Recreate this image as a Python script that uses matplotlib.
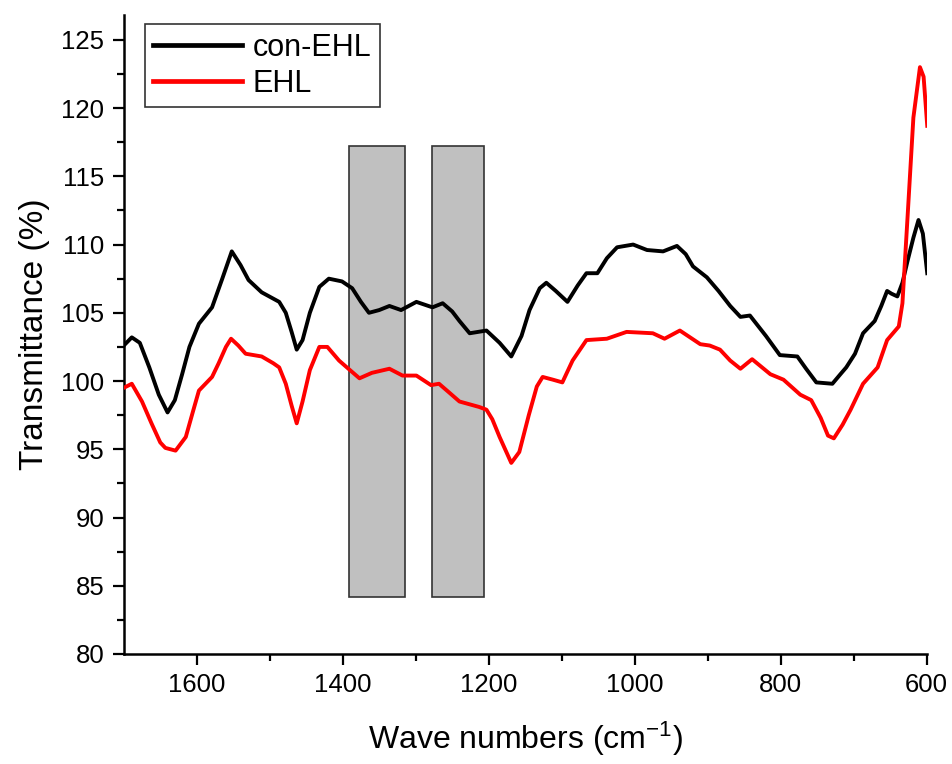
import matplotlib
matplotlib.use("Agg")
import matplotlib.pyplot as plt
from matplotlib.patches import Rectangle

# ---- data ----
con_ehl_x = [1700, 1689, 1678, 1665, 1652, 1640, 1630, 1620, 1610, 1597, 1579, 1565, 1552, 1540,
             1529, 1511, 1487, 1478, 1470, 1463, 1455, 1445, 1432, 1419, 1401, 1387, 1375, 1364,
             1350, 1336, 1320, 1299, 1277, 1263, 1250, 1240, 1226, 1203, 1185, 1169, 1155, 1144,
             1130, 1121, 1108, 1092, 1078, 1066, 1051, 1038, 1024, 1002, 983, 961, 942, 930, 920,
             901, 885, 869, 855, 842, 820, 801, 777, 765, 751, 729, 718, 710, 698, 687, 671, 662,
             654, 648, 640, 633, 626, 618, 611, 605, 599]
con_ehl_y = [102.6, 103.2, 102.8, 101.0, 99.0, 97.7, 98.6, 100.5, 102.5, 104.2, 105.4, 107.5, 109.5, 108.5,
             107.4, 106.5, 105.8, 105.0, 103.6, 102.3, 103.0, 105.0, 106.9, 107.5, 107.3, 106.8, 105.8, 105.0,
             105.2, 105.5, 105.2, 105.8, 105.4, 105.7, 105.1, 104.4, 103.5, 103.7, 102.8, 101.8, 103.3, 105.2,
             106.8, 107.2, 106.6, 105.8, 107.0, 107.9, 107.9, 109.0, 109.8, 110.0, 109.6, 109.5, 109.9, 109.3, 108.4,
             107.6, 106.6, 105.5, 104.7, 104.8, 103.3, 101.9, 101.8, 100.9, 99.9, 99.8, 100.5, 101.0, 102.0, 103.5, 104.4, 105.5,
             106.6, 106.4, 106.2, 107.2, 108.8, 110.5, 111.8, 110.8, 107.9]

ehl_x = [1700, 1689, 1675, 1662, 1650, 1643, 1629, 1615, 1605, 1597, 1579, 1570, 1560, 1553, 1543,
         1533, 1511, 1495, 1487, 1478, 1470, 1463, 1455, 1445, 1432, 1421, 1405, 1390, 1377, 1360,
         1336, 1318, 1299, 1279, 1268, 1255, 1240, 1213, 1203, 1195, 1185, 1169, 1158, 1145, 1134,
         1126, 1112, 1099, 1085, 1066, 1038, 1011, 975, 959, 938, 910, 897, 883, 869, 855, 839, 814,
         796, 773, 758, 745, 735, 727, 715, 704, 687, 667, 654, 638, 633, 626, 618, 609, 604, 599]
ehl_y = [99.5, 99.8, 98.5, 96.9, 95.5, 95.1, 94.9, 95.9, 97.8, 99.3, 100.3, 101.3, 102.5, 103.1, 102.6,
         102.0, 101.8, 101.3, 101.0, 99.8, 98.2, 96.9, 98.5, 100.8, 102.5, 102.5, 101.5, 100.8, 100.2, 100.6,
         100.9, 100.4, 100.4, 99.7, 99.8, 99.2, 98.5, 98.1, 97.9, 97.2, 95.9, 94.0, 94.8, 97.5, 99.6,
         100.3, 100.1, 99.9, 101.5, 103.0, 103.1, 103.6, 103.5, 103.1, 103.7, 102.7, 102.6, 102.3, 101.5, 100.9, 101.6, 100.5,
         100.1, 99.0, 98.6, 97.3, 96.0, 95.8, 96.8, 97.9, 99.8, 101.0, 103.0, 104.0, 105.7, 112.0, 119.3, 123.0, 122.3, 118.7]

series_labels = ["con-EHL", "EHL"]
series_colors = ["#000000", "#ff0000"]

# shaded bands (x start, x end) and their vertical extent
band_ranges = [(1391, 1314), (1277, 1207)]
band_y = (84.2, 117.2)

x_ticks = [1600, 1400, 1200, 1000, 800, 600]
y_ticks = [80, 85, 90, 95, 100, 105, 110, 115, 120, 125]

plt.rcParams['font.family'] = ['Liberation Sans', 'DejaVu Sans']
plt.rcParams['mathtext.fontset'] = 'custom'
plt.rcParams['mathtext.rm'] = 'Liberation Sans'
plt.rcParams['mathtext.default'] = 'regular'

fig = plt.figure(figsize=(9.52, 7.64), dpi=100)
ax = fig.add_axes([0.130, 0.144, 0.844, 0.836])

for x0, x1 in band_ranges:
    ax.add_patch(Rectangle((min(x0, x1), band_y[0]), abs(x0 - x1), band_y[1] - band_y[0],
                           facecolor="#c0c0c0", edgecolor="#333333", linewidth=1.2, zorder=1))

ax.plot(con_ehl_x, con_ehl_y, color=series_colors[0], lw=2.8, label=series_labels[0], zorder=3,
        solid_joinstyle="round")
ax.plot(ehl_x, ehl_y, color=series_colors[1], lw=2.8, label=series_labels[1], zorder=3,
        solid_joinstyle="round")

ax.set_xlim(1700, 599)
ax.set_ylim(80, 126.8)
ax.set_xticks(x_ticks)
ax.set_yticks(y_ticks)
ax.set_xticks([1500, 1300, 1100, 900, 700], minor=True)
ax.set_yticks([82.5 + 5 * i for i in range(9)], minor=True)

for s in ["top", "right"]:
    ax.spines[s].set_visible(False)
for s in ["left", "bottom"]:
    ax.spines[s].set_linewidth(1.8)

ax.tick_params(axis="both", which="major", direction="out", length=8, width=1.6, labelsize=18.5, pad=6)
ax.tick_params(axis="both", which="minor", direction="out", length=5, width=1.6)

ax.set_xlabel("Wave numbers (cm$^{-1}$)", fontsize=23, labelpad=16)
ax.set_ylabel("Transmittance (%)", fontsize=24, labelpad=8)

leg = ax.legend(loc="upper left", bbox_to_anchor=(0.026, 0.986), borderaxespad=0,
                fontsize=22, handlelength=2.9, frameon=True, fancybox=False,
                borderpad=0.28, labelspacing=0.2, handletextpad=0.35)
leg.get_frame().set_edgecolor("black")
leg.get_frame().set_linewidth(1.2)
for line in leg.get_lines():
    line.set_linewidth(3.4)

fig.savefig("out.png", dpi=100)
